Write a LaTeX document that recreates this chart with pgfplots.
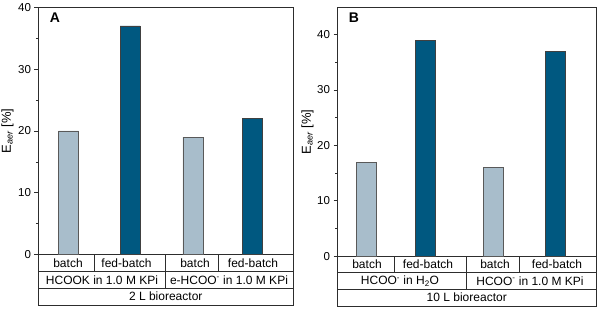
\documentclass[border=0pt]{standalone}
\usepackage{fontspec}
\setmainfont{Liberation Sans}
\usepackage{pgfplots}
\pgfplotsset{compat=1.18}

\definecolor{batchc}{RGB}{168,189,203}
\definecolor{fedc}{RGB}{0,88,128}
\definecolor{framec}{RGB}{45,45,45}

\newcommand{\tabfont}{\fontsize{12}{14}\selectfont}

\pgfplotsset{
  eaer/.style={
    scale only axis,
    clip=false,
    axis line style={framec, line width=0.8pt},
    ytick pos=left,
    tick align=outside,
    xtick=\empty,
    ymin=0,
    ytick distance=10,
    minor y tick num=1,
    major tick length=4pt,
    minor tick length=2.5pt,
    every tick/.style={framec, line width=0.8pt},
    /pgf/number format/assume math mode=true,
    yticklabel style={font=\fontsize{11.5}{13}\selectfont},
    ylabel={E\textsubscript{\itshape aer} [\%]},
    ylabel style={font=\fontsize{13}{15}\selectfont, anchor=center},
  },
  batchbar/.style={ybar, bar width=20pt, bar shift=0pt,
    fill=batchc, draw=black!65, line width=0.6pt},
  fedbar/.style={ybar, bar width=20pt, bar shift=0pt,
    fill=fedc, draw=black!75, line width=0.6pt},
}

\begin{document}
\begin{tikzpicture}[x=1pt, y=1pt]
\useasboundingbox (0,0) rectangle (600,310);

% Panel A: 2 L bioreactor
\begin{axis}[eaer,
  at={(38.5pt,55.3pt)}, anchor=south west,
  width=254.5pt, height=247.4pt,
  xmin=0, xmax=254.5, ymax=40,
  ylabel style={at={(axis description cs:-0.122,0.5)}},
]
\addplot[batchbar] coordinates {(30.2,20) (154.3,19)};
\addplot[fedbar] coordinates {(91.5,37) (214.2,22)};
\end{axis}

% Panel B: 10 L bioreactor
\begin{axis}[eaer,
  at={(337.5pt,53.7pt)}, anchor=south west,
  width=258.5pt, height=249pt,
  xmin=0, xmax=258.5, ymax=44.9,
  ylabel style={at={(axis description cs:-0.116,0.5)}},
]
\addplot[batchbar] coordinates {(29.2,17) (155.5,16)};
\addplot[fedbar] coordinates {(87.5,39) (217.5,37)};
\end{axis}

% panel letters
\node[font=\bfseries\fontsize{14}{16}\selectfont] at (55,292) {A};
\node[font=\bfseries\fontsize{14}{16}\selectfont] at (354,292) {B};

% condition table under panel A
\draw[framec, line width=0.8pt]
  (38.5,55.3) -- (38.5,5) -- (293,5) -- (293,55.3)
  (38.5,38.3) -- (293,38.3)
  (38.5,21.7) -- (293,21.7)
  (94,55.3) -- (94,38.3)
  (165,55.3) -- (165,21.7)
  (218.3,55.3) -- (218.3,38.3);
\begin{scope}[every node/.style={font=\tabfont, inner sep=0pt}]
\node at (68,46.8) {batch};
\node at (126.5,46.8) {fed-batch};
\node at (195,46.8) {batch};
\node at (253,46.8) {fed-batch};
\node at (102,30) {HCOOK in 1.0 M KPi};
\node at (229,30) {e-HCOO\textsuperscript{-} in 1.0 M KPi};
\node at (165.75,13.35) {2 L bioreactor};
\end{scope}

% condition table under panel B
\draw[framec, line width=0.8pt]
  (337.5,53.7) -- (337.5,4) -- (596,4) -- (596,53.7)
  (337.5,37.3) -- (596,37.3)
  (337.5,20.7) -- (596,20.7)
  (394,53.7) -- (394,37.3)
  (466.7,53.7) -- (466.7,20.7)
  (519.5,53.7) -- (519.5,37.3);
\begin{scope}[every node/.style={font=\tabfont, inner sep=0pt}]
\node at (367,45.5) {batch};
\node at (428,45.5) {fed-batch};
\node at (495,45.5) {batch};
\node at (557,45.5) {fed-batch};
\node at (400,29) {HCOO\textsuperscript{-} in H\textsubscript{2}O};
\node at (530,29) {HCOO\textsuperscript{-} in 1.0 M KPi};
\node at (466.75,12.35) {10 L bioreactor};
\end{scope}
\end{tikzpicture}
\end{document}
